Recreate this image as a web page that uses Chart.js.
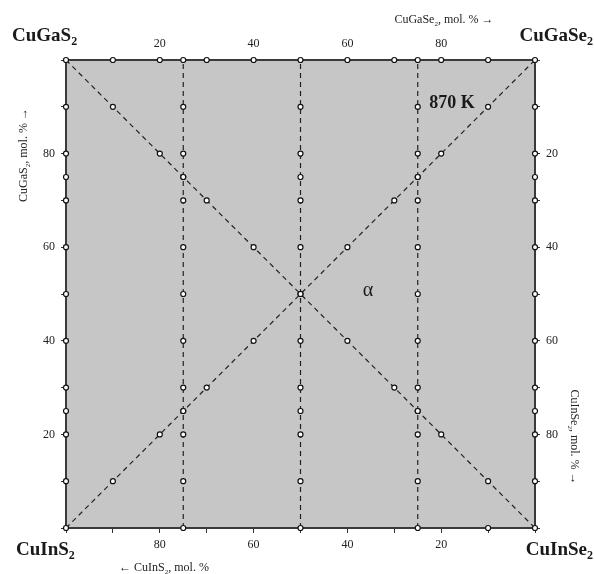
<!DOCTYPE html>
<html>
<head>
<meta charset="utf-8">
<script src="https://cdn.jsdelivr.net/npm/chart.js@4.4.1/dist/chart.umd.min.js"></script>
<style>
  html, body { margin: 0; padding: 0; background: #fff; }
  #wrap { width: 594px; height: 574px; }
</style>
</head>
<body>
<div id="wrap"><canvas id="chart" width="594" height="574"></canvas></div>
<script>
// Square section CuGaS2 - CuGaSe2 - CuInSe2 - CuInS2 at 870 K
// x = CuGaSe2 mol.% (top axis), y = CuGaS2 mol.% (left axis)

const labelledTicks = [20, 40, 60, 80];

// studied compositions on the square's edges
const topEdgeX = [0, 10, 20, 25, 30, 40, 50, 60, 70, 75, 80, 90, 100];
const bottomEdgeX = [0, 25, 50, 75, 90, 100];
const leftEdgeY = [10, 20, 25, 30, 40, 50, 60, 70, 75, 80, 90];
const rightEdgeY = [10, 20, 25, 30, 40, 50, 60, 70, 75, 80, 90];

// studied compositions on the internal sections
const fallingDiagonal = [[10, 90], [20, 80], [25, 75], [30, 70], [40, 60], [50, 50],
  [60, 40], [70, 30], [75, 25], [80, 20], [90, 10]];
const risingDiagonal = [[10, 10], [20, 20], [25, 25], [30, 30], [40, 40],
  [60, 60], [70, 70], [75, 75], [80, 80], [90, 90]];
const sectionX = [25, 50, 75];
const sectionY = [10, 20, 25, 30, 40, 50, 60, 70, 75, 80, 90];

// dashed sections (end points)
const sectionLines = [
  [[0, 100], [100, 0]],
  [[0, 0], [100, 100]],
  [[25, 0], [25, 100]],
  [[50, 0], [50, 100]],
  [[75, 0], [75, 100]],
];

const SERIF = '"Liberation Serif", "DejaVu Serif", serif';
const INK = '#1a1a1a';

const points = [
  ...topEdgeX.map((x) => ({ x, y: 100 })),
  ...bottomEdgeX.map((x) => ({ x, y: 0 })),
  ...leftEdgeY.map((y) => ({ x: 0, y })),
  ...rightEdgeY.map((y) => ({ x: 100, y })),
  ...fallingDiagonal.map(([x, y]) => ({ x, y })),
  ...risingDiagonal.map(([x, y]) => ({ x, y })),
];
sectionX.forEach((x) => sectionY.forEach((y) => points.push({ x, y })));

const lineDatasets = sectionLines.map((seg) => ({
  type: 'line',
  data: seg.map(([x, y]) => ({ x, y })),
  borderColor: '#222',
  borderWidth: 1.2,
  borderDash: [5, 4],
  pointRadius: 0,
  fill: false,
  clip: false,
  order: 2, // drawn under the points
}));

// text with subscripts: segments of [text, isSubscript]
function drawRich(ctx, segs, x, y, size, weight, align) {
  const base = `${weight} ${size}px ${SERIF}`;
  const sub = `${weight} ${Math.round(size * 0.62)}px ${SERIF}`;
  let w = 0;
  segs.forEach(([t, s]) => { ctx.font = s ? sub : base; w += ctx.measureText(t).width; });
  let cx = align === 'center' ? x - w / 2 : align === 'right' ? x - w : x;
  ctx.textAlign = 'left';
  ctx.textBaseline = 'alphabetic';
  segs.forEach(([t, s]) => {
    ctx.font = s ? sub : base;
    ctx.fillText(t, cx, s ? y + size * 0.22 : y);
    cx += ctx.measureText(t).width;
  });
}

const decorPlugin = {
  id: 'decor',
  beforeDraw(chart) {
    const { ctx, chartArea: a } = chart;
    ctx.save();
    ctx.fillStyle = '#c6c6c6';
    ctx.fillRect(a.left, a.top, a.right - a.left, a.bottom - a.top);
    ctx.restore();
  },
  beforeDatasetsDraw(chart) {
    const { ctx, chartArea: a } = chart;
    ctx.save();
    ctx.strokeStyle = '#3a3a3a';
    ctx.lineWidth = 2;
    ctx.strokeRect(a.left, a.top, a.right - a.left, a.bottom - a.top);
    ctx.restore();
  },
  afterDraw(chart) {
    const { ctx } = chart;
    ctx.save();
    ctx.fillStyle = INK;

    // corner compounds
    drawRich(ctx, [['CuGaS', 0], ['2', 1]], 12, 41, 19, 'bold', 'left');
    drawRich(ctx, [['CuGaSe', 0], ['2', 1]], 593, 41, 19, 'bold', 'right');
    drawRich(ctx, [['CuInS', 0], ['2', 1]], 16, 555, 19, 'bold', 'left');
    drawRich(ctx, [['CuInSe', 0], ['2', 1]], 593, 555, 19, 'bold', 'right');

    // axis titles
    ctx.fillStyle = '#222';
    drawRich(ctx, [['CuGaSe', 0], ['2', 1], [', mol. % \u2192', 0]], 444, 23, 12, 'normal', 'center');
    drawRich(ctx, [['\u2190 CuInS', 0], ['2', 1], [', mol. %', 0]], 164, 571, 12, 'normal', 'center');

    ctx.save();
    ctx.translate(27, 155);
    ctx.rotate(-Math.PI / 2);
    drawRich(ctx, [['CuGaS', 0], ['2', 1], [', mol. % \u2192', 0]], 0, 0, 12, 'normal', 'center');
    ctx.restore();

    ctx.save();
    ctx.translate(571, 437);
    ctx.rotate(Math.PI / 2);
    drawRich(ctx, [['CuInSe', 0], ['2', 1], [', mol. % \u2192', 0]], 0, 0, 12, 'normal', 'center');
    ctx.restore();

    // field labels
    ctx.fillStyle = INK;
    drawRich(ctx, [['870 K', 0]], 452, 108, 18, 'bold', 'center');
    drawRich(ctx, [['\u03b1', 0]], 368, 296, 20, 'normal', 'center');
    ctx.restore();
  },
};

const tickFont = { family: SERIF, size: 12 };
const tickLabel = (v) => (labelledTicks.includes(v) ? String(v) : '');

function axis(position, reverse, drawTicks, size) {
  const horizontal = position === 'top' || position === 'bottom';
  return {
    type: 'linear',
    position,
    reverse,
    min: 0,
    max: 100,
    ticks: {
      stepSize: 10,
      autoSkip: false,
      maxRotation: 0,
      callback: tickLabel,
      font: tickFont,
      color: '#222',
      padding: horizontal ? (position === 'top' ? 9 : 5) : 6,
    },
    grid: {
      display: true,
      drawOnChartArea: false,
      drawTicks,
      tickLength: 5,
      color: '#333',
      lineWidth: 1,
    },
    border: { display: false },
    afterFit(scale) {
      if (horizontal) scale.height = size;
      else scale.width = size;
    },
  };
}

new Chart(document.getElementById('chart'), {
  type: 'scatter',
  data: {
    datasets: [
      ...lineDatasets,
      {
        type: 'scatter',
        data: points,
        pointRadius: 2.5,
        pointBorderWidth: 1.2,
        pointBackgroundColor: '#fff',
        pointBorderColor: '#111',
        clip: false,
        order: 1,
      },
    ],
  },
  options: {
    responsive: false,
    animation: false,
    layout: { padding: { top: 30, bottom: 16, left: 22, right: 15 } },
    plugins: { legend: { display: false }, tooltip: { enabled: false } },
    scales: {
      x: axis('top', false, false, 30),
      x2: axis('bottom', true, true, 30),
      y: axis('left', false, true, 44),
      y2: axis('right', true, true, 44),
    },
  },
  plugins: [decorPlugin],
});
</script>
</body>
</html>
